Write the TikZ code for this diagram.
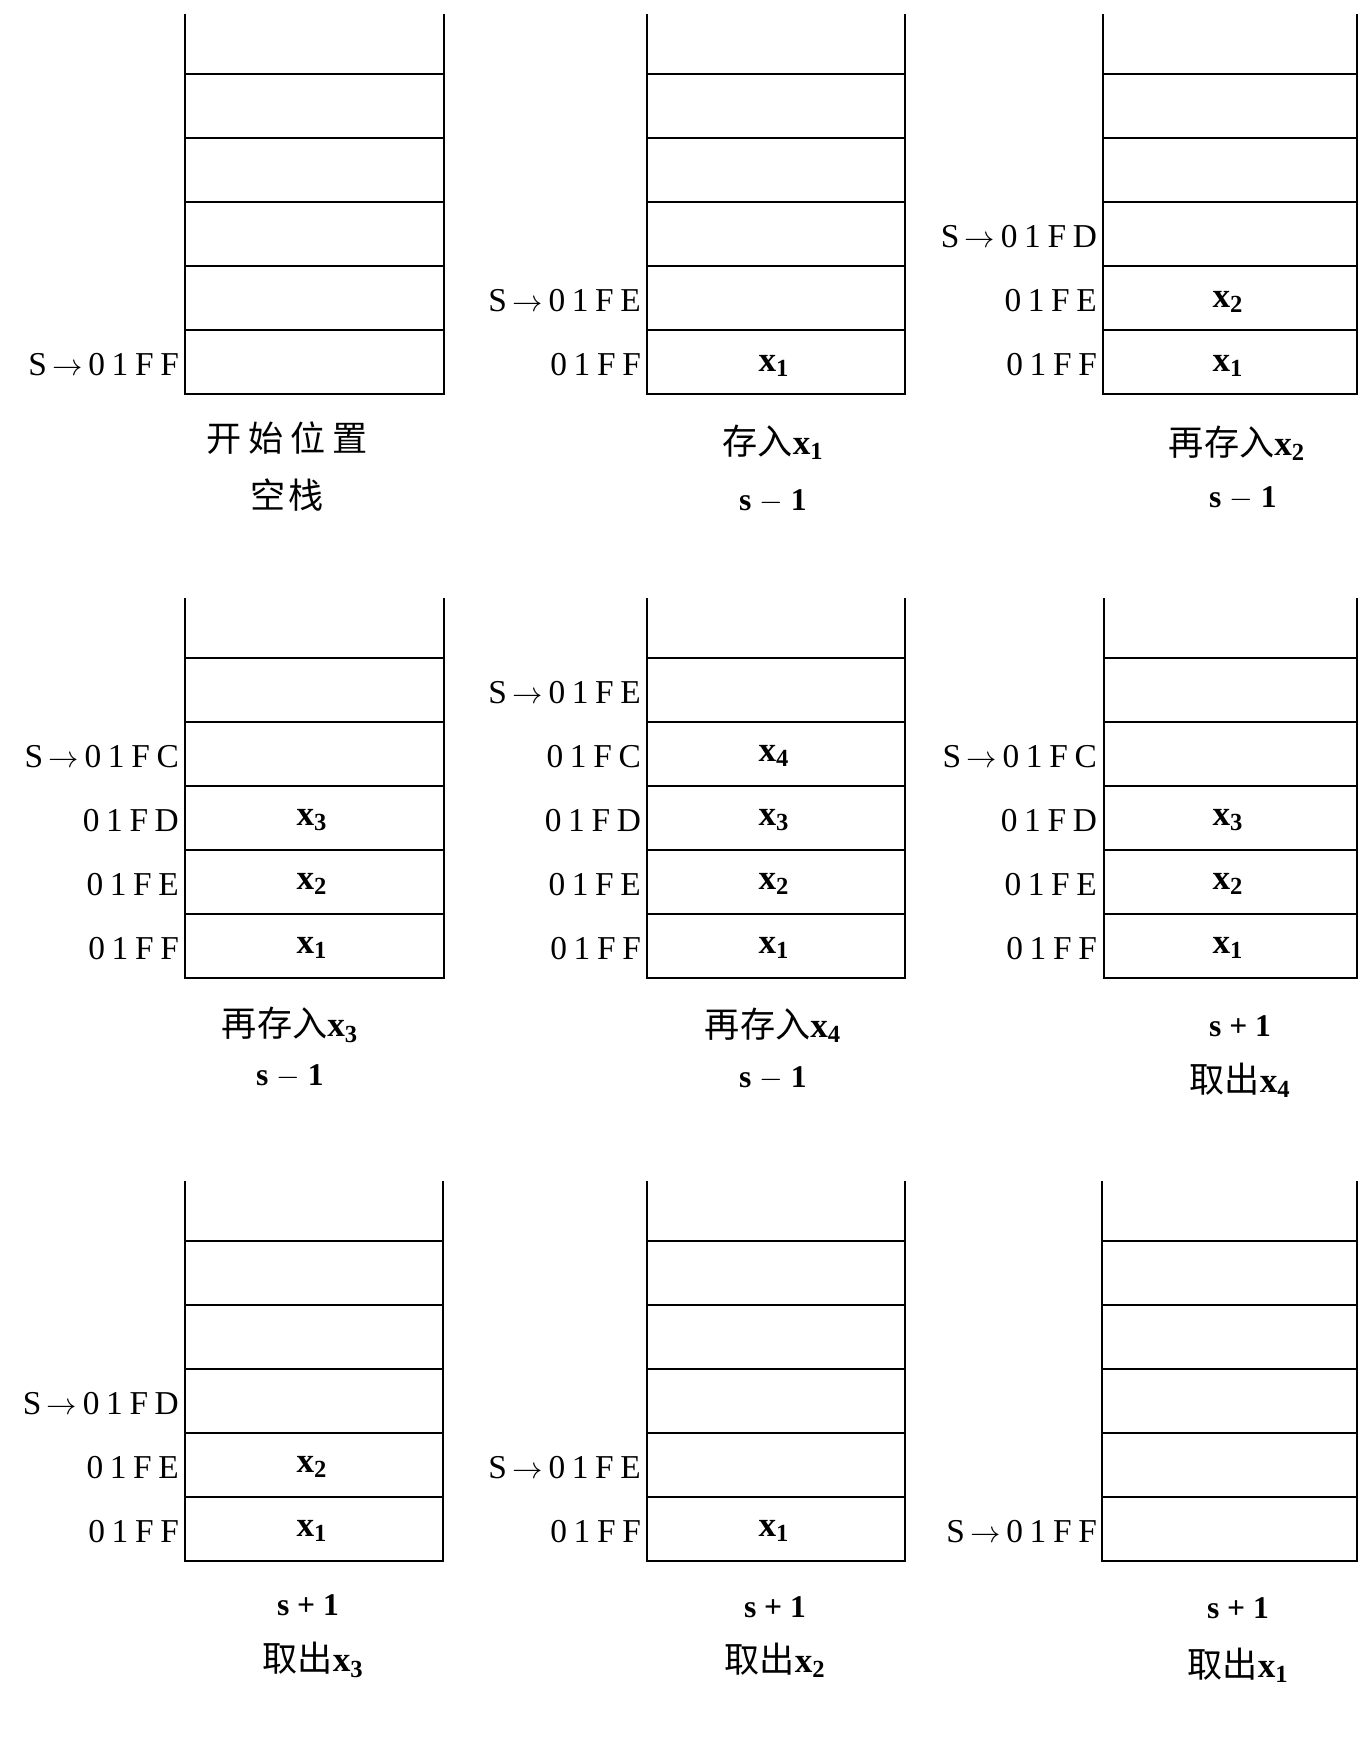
\documentclass[tikz,border=0pt]{standalone}
\usepackage{fontspec}
\setmainfont{Liberation Serif}
\newfontfamily\cjk{Noto Sans CJK SC}
\newfontfamily\addrfont[LetterSpace=20]{Liberation Serif}
\usetikzlibrary{positioning}

\begin{document}
\begin{tikzpicture}[
  x=0.02cm, y=-0.02cm,
  wall/.style={line width=1.1pt},
  shelf/.style={line width=0.9pt},
  cell/.style={font=\fontsize{20}{22}\selectfont\bfseries},
  addr/.style={anchor=east, inner sep=1pt, font=\addrfont\fontsize{19}{22}\selectfont},
  title/.style={font=\cjk\fontsize{20}{22}\selectfont},
  ptr/.style={font=\fontsize{18}{20}\selectfont\bfseries}
]
  \useasboundingbox (0,0) rectangle (1359,1740);

  % Stack frames
  \foreach \L/\R/\B in {185/444/394, 647/905/394, 1103/1357/394,
                        185/444/978, 647/905/978, 1104/1357/978,
                        185/443/1561, 647/905/1561, 1102/1357/1561} {
    \draw[wall] (\L,\B-380) -- (\L,\B) -- (\R,\B) -- (\R,\B-380);
    \foreach \k in {1,...,5}
      \draw[shelf] (\L,\B-64*\k) -- (\R,\B-64*\k);
  }

  % Start: empty stack
  \node[addr] (a1) at (181,365) {S\,$\rightarrow$\,01FF};
  \node[title] (acap) at (287,438) {开\hspace{4pt}始\hspace{4pt}位\hspace{4pt}置};
  \node[title] (asub) at (287,495) {空\hspace{2pt}栈};

  % Push x1
  \node[addr] (b2) at (643,301) {S\,$\rightarrow$\,01FE};
  \node[addr] (b1) at (643,365) {01FF};
  \node[cell] (bx1) at (774,366) {x\textsubscript{1}};
  \node[title] (bcap) at (773,442) {存入{\rmfamily\bfseries x\textsubscript{1}}};
  \node[ptr] (bsub) at (773,501) {s $-$ 1};

  % Push x2
  \node[addr] (c3) at (1099,237) {S\,$\rightarrow$\,01FD};
  \node[addr] (c2) at (1099,301) {01FE};
  \node[addr] (c1) at (1099,365) {01FF};
  \node[cell] (cx2) at (1228,302) {x\textsubscript{2}};
  \node[cell] (cx1) at (1228,366) {x\textsubscript{1}};
  \node[title] (ccap) at (1237,443) {再存入{\rmfamily\bfseries x\textsubscript{2}}};
  \node[ptr] (csub) at (1243,498) {s $-$ 1};

  % Push x3
  \node[addr] (d4) at (181,757) {S\,$\rightarrow$\,01FC};
  \node[addr] (d3) at (181,821) {01FD};
  \node[addr] (d2) at (181,885) {01FE};
  \node[addr] (d1) at (181,949) {01FF};
  \node[cell] (dx3) at (312,820) {x\textsubscript{3}};
  \node[cell] (dx2) at (312,884) {x\textsubscript{2}};
  \node[cell] (dx1) at (312,948) {x\textsubscript{1}};
  \node[title] (dcap) at (290,1025) {再存入{\rmfamily\bfseries x\textsubscript{3}}};
  \node[ptr] (dsub) at (290,1076) {s $-$ 1};

  % Push x4
  \node[addr] (e5) at (643,693) {S\,$\rightarrow$\,01FE};
  \node[addr] (e4) at (643,757) {01FC};
  \node[addr] (e3) at (643,821) {01FD};
  \node[addr] (e2) at (643,885) {01FE};
  \node[addr] (e1) at (643,949) {01FF};
  \node[cell] (ex4) at (774,756) {x\textsubscript{4}};
  \node[cell] (ex3) at (774,820) {x\textsubscript{3}};
  \node[cell] (ex2) at (774,884) {x\textsubscript{2}};
  \node[cell] (ex1) at (774,948) {x\textsubscript{1}};
  \node[title] (ecap) at (773,1025) {再存入{\rmfamily\bfseries x\textsubscript{4}}};
  \node[ptr] (esub) at (773,1078) {s $-$ 1};

  % Pop x4
  \node[addr] (f4) at (1099,757) {S\,$\rightarrow$\,01FC};
  \node[addr] (f3) at (1099,821) {01FD};
  \node[addr] (f2) at (1099,885) {01FE};
  \node[addr] (f1) at (1099,949) {01FF};
  \node[cell] (fx3) at (1228,820) {x\textsubscript{3}};
  \node[cell] (fx2) at (1228,884) {x\textsubscript{2}};
  \node[cell] (fx1) at (1228,948) {x\textsubscript{1}};
  \node[ptr] (fsub) at (1240,1026) {s + 1};
  \node[title] (fcap) at (1240,1080) {取出{\rmfamily\bfseries x\textsubscript{4}}};

  % Pop x3
  \node[addr] (g3) at (181,1404) {S\,$\rightarrow$\,01FD};
  \node[addr] (g2) at (181,1468) {01FE};
  \node[addr] (g1) at (181,1532) {01FF};
  \node[cell] (gx2) at (312,1467) {x\textsubscript{2}};
  \node[cell] (gx1) at (312,1531) {x\textsubscript{1}};
  \node[ptr] (gsub) at (308,1605) {s + 1};
  \node[title] (gcap) at (313,1660) {取出{\rmfamily\bfseries x\textsubscript{3}}};

  % Pop x2
  \node[addr] (h2) at (643,1468) {S\,$\rightarrow$\,01FE};
  \node[addr] (h1) at (643,1532) {01FF};
  \node[cell] (hx1) at (774,1531) {x\textsubscript{1}};
  \node[ptr] (hsub) at (775,1607) {s + 1};
  \node[title] (hcap) at (775,1660) {取出{\rmfamily\bfseries x\textsubscript{2}}};

  % Pop x1
  \node[addr] (i1) at (1099,1532) {S\,$\rightarrow$\,01FF};
  \node[ptr] (isub) at (1238,1608) {s + 1};
  \node[title] (icap) at (1238,1665) {取出{\rmfamily\bfseries x\textsubscript{1}}};
\end{tikzpicture}
\end{document}
